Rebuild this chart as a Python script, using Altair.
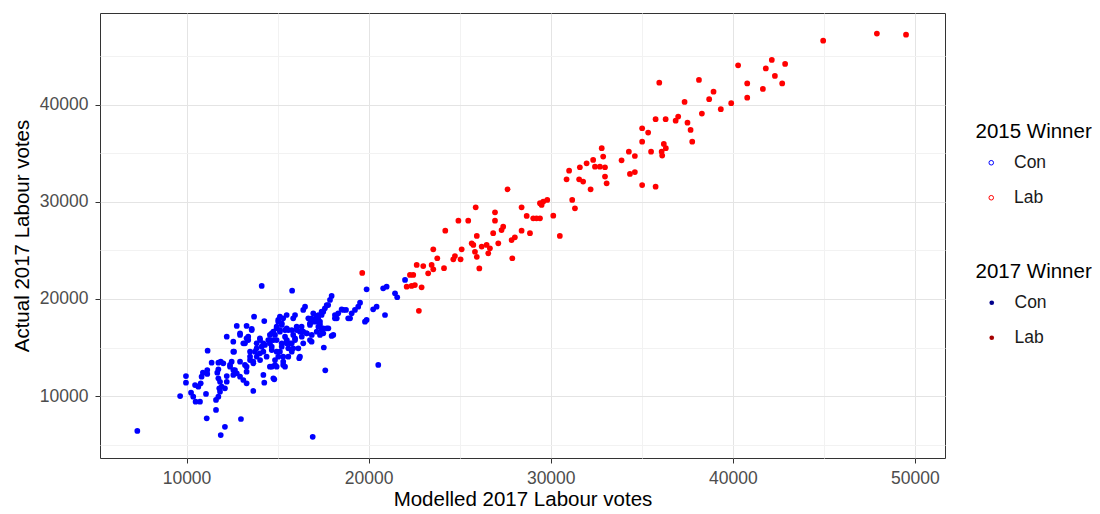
import altair as alt
import pandas as pd

FONT = "Liberation Sans"

# Seats won by the Conservatives in 2015: modelled vs actual 2017 Labour vote
con_modelled = [
    7300, 9650, 9970, 9970, 10250, 10370, 10500, 10740, 10470, 10650,
    10780, 10830, 10900, 11070, 11140, 11140, 11160, 11380, 11750, 11880,
    11110, 11620, 12110, 11880, 12990, 11620, 11750, 11840, 11800, 11930,
    11840, 11750, 11690, 11750, 12110, 12210, 12210, 12210, 12570, 12940,
    12760, 13390, 13210, 13580, 13300, 12610, 12480, 12390, 12570, 12760,
    12570, 12940, 13120, 13300, 13670, 14270, 14820, 13300, 13490, 13670,
    13850, 14030, 13760, 13490, 14130, 14310, 13850, 14490, 14030, 14680,
    14860, 15040, 15310, 15410, 15130, 15230, 15500, 14950, 14580, 14770,
    15410, 15590, 14950, 15230, 13710, 14270, 14130, 15800, 17620, 20530,
    17540, 16190, 16930, 19890, 20800, 20990, 21450, 21570, 22000, 17970,
    17880, 17780, 17600, 17510, 17420, 17230, 17140, 19530, 19430, 19250,
    19070, 18980, 18760, 18520, 18330, 18150, 20440, 20250, 20900, 19890,
    19800, 16510, 16410, 15960, 15860, 15500, 15310, 15040, 16960, 17150,
    17330, 17240, 17420, 17510, 17700, 17970, 16780, 16600, 16320, 16410,
    16050, 15860, 15960, 15680, 15500, 15410, 15130, 14860, 14770, 14580,
    15310, 14950, 14680, 15590, 15860, 16780, 16870, 15130, 13300,
    17700, 17420, 17240, 18610, 18880, 18250, 18150, 15040, 16690, 16960,
    16780, 17150, 17330, 12940, 13580, 13390, 13120, 12570, 14040, 14220,
    14580, 14680, 14950, 15230, 15130, 15500, 15780, 16050, 16230, 13850,
    14220, 14680, 14950, 15230, 15500, 15780, 15960, 16330, 16600, 16880,
    17150, 17330, 17510, 17790, 18060, 13490, 13670, 14040, 14400, 12940,
    13210, 12390, 12020, 12660, 13300, 14580, 14860, 15310, 15590, 15780,
    16230, 16140, 16410, 16870, 14770, 14220,
]
con_actual = [
    6400, 10000, 12060, 11370, 10340, 9930, 9410, 9410, 11130, 10960,
    11310, 11990, 12400, 10210, 12270, 12680, 14670, 13430, 13430, 13540,
    7700, 8560, 6830, 5980, 7630, 9590, 9930, 10440, 10790, 10960,
    11470, 11820, 12400, 12750, 10790, 11470, 12060, 16110, 15600, 16290,
    17220, 16110, 15430, 16800, 17220, 14570, 13540, 13020, 12680, 12340,
    12170, 11990, 11650, 11310, 10520, 11370, 11720, 13020, 13710, 13370,
    14050, 14400, 14570, 14570, 15080, 15260, 15430, 15770, 15950, 13020,
    13710, 14050, 13540, 13020, 14570, 15080, 15430, 15770, 16290, 16630,
    16110, 16800, 17140, 17490, 18180, 17730, 21340, 20860, 12650, 13200,
    15000, 13900, 5800, 21000, 21100, 21270, 20590, 20180, 21960, 20310,
    19900, 19380, 19040, 18690, 18350, 18010, 17660, 19620, 19210, 18870,
    18530, 18010, 18870, 18940, 18530, 18010, 19210, 18940, 18350, 17840,
    17660, 19210, 18870, 18350, 18010, 18350, 18010, 17660, 18530, 18180,
    17660, 17140, 16800, 16460, 16980, 16190, 15770, 16460, 17140, 16630,
    16800, 16290, 15770, 15430, 15770, 16800, 16630, 16290, 15770, 15430,
    14050, 13020, 14740, 14910, 14910, 17490, 18010, 18180, 15950,
    19380, 18690, 18350, 18870, 18010, 18010, 18350, 17840, 18010, 17660,
    17320, 18010, 17320, 16460, 16910, 15770, 15430, 14570, 15770, 15430,
    15770, 16460, 16980, 17320, 16800, 16980, 16800, 17140, 16630, 14910,
    14570, 15080, 14570, 15430, 15770, 15430, 15950, 16110, 16460, 16290,
    16630, 16290, 16980, 16980, 16290, 14050, 13540, 13710, 14050, 13540,
    13200, 13200, 13370, 12680, 12510, 13020, 13200, 13200, 14050, 14570,
    14050, 14910, 15430, 15600, 11820, 12170,
]

# Seats won by Labour in 2015
lab_modelled = [
    19650, 22270, 22450, 22640, 23000, 22090, 22360, 22540, 22910, 22760,
    23270, 23550, 23460, 23550, 23770, 24140, 24210, 24650, 24740, 25110,
    25050, 24930, 25470, 25880, 25750, 25940, 25660, 25840, 25940, 26080,
    26210, 26480, 26570, 26660, 26840, 26940, 26940, 27120, 27300, 27390,
    27630, 27850, 28030, 27890, 28400, 28400, 28680, 28860, 29040, 29220,
    29410, 29410, 29590, 29810, 29500, 30140, 30500, 30870, 31010, 31600,
    31970, 32330, 32430, 32700, 32980, 32880, 32980, 33070, 31560, 31780,
    32190, 31180, 31330, 32800, 33890, 34290, 34620, 34350, 34620, 35020,
    35350, 35020, 35020, 35760, 35510, 35760, 36310, 35960, 36090, 36210,
    36320, 36120, 36860, 37000, 37350, 37510, 37680, 37770, 38140, 38300,
    38700, 38940, 39340, 39910, 40290, 40790, 40790, 41650, 41810, 42140,
    42310, 42710, 42870, 44960, 47910, 49510,
]
lab_actual = [
    22680, 22480, 22480, 23510, 23400, 21270, 21340, 21440, 21210, 18780,
    22650, 25120, 23510, 23060, 24200, 23170, 27040, 24090, 24430, 25120,
    24090, 28070, 28070, 29450, 25570, 26500, 25740, 24870, 24350, 23150,
    25400, 25570, 24710, 25230, 26780, 28070, 28940, 25740, 27110, 27450,
    31310, 26080, 26360, 24200, 27040, 29450, 28560, 26780, 28320, 28320,
    28320, 29870, 30040, 30210, 29700, 28590, 26500, 32340, 33230, 33580,
    33990, 34330, 33640, 33640, 33580, 34680, 32620, 31930, 32340, 32100,
    31310, 30210, 29350, 35540, 34300, 35190, 34740, 32890, 33090, 37600,
    37150, 36220, 31750, 31580, 35190, 38530, 38530, 42300, 35190, 35980,
    35540, 34780, 38380, 38800, 40310, 38180, 37430, 36220, 42580, 39110,
    40590, 41370, 39560, 40180, 44090, 42220, 40750, 41650, 43760, 44640,
    42990, 42220, 44230, 46630, 47360, 47250,
]

parties = ["Con", "Lab"]
colours_2015 = ["#0000FF", "#FF0000"]
colours_2017 = ["#00008B", "#A50000"]

x_breaks = [10000, 20000, 30000, 40000, 50000]
x_minor = [15000, 25000, 35000, 45000]
y_breaks = [10000, 20000, 30000, 40000]
y_minor = [5000, 15000, 25000, 35000, 45000]

df = pd.DataFrame({
    "modelled": con_modelled + lab_modelled,
    "actual": con_actual + lab_actual,
    "winner_2015": ["Con"] * len(con_modelled) + ["Lab"] * len(lab_modelled),
})
df["winner_2017"] = df["winner_2015"]


def make_axis(title, breaks, minor, label_padding, title_padding):
    is_major = f"indexof({breaks}, datum.value) >= 0"
    return alt.Axis(
        title=title,
        values=sorted(breaks + minor),
        format="d",
        labelExpr=f"{is_major} ? datum.label : ''",
        labelOverlap=False,
        labelFlush=False,
        domain=False,
        gridColor={"condition": {"test": is_major, "value": "#E4E4E4"}, "value": "#F2F2F2"},
        gridWidth=1,
        tickColor={"condition": {"test": is_major, "value": "#333333"}, "value": "transparent"},
        tickSize=5,
        tickWidth=1,
        labelColor="#4D4D4D",
        labelFont=FONT,
        labelFontSize=17.5,
        labelPadding=label_padding,
        titleColor="#000000",
        titleFont=FONT,
        titleFontSize=20.5,
        titleFontWeight="normal",
        titlePadding=title_padding,
    )


base = alt.Chart(df).encode(
    x=alt.X("modelled:Q",
            scale=alt.Scale(domain=[5250, 51650], nice=False, zero=False),
            axis=make_axis("Modelled 2017 Labour votes", x_breaks, x_minor, 6, 3)),
    y=alt.Y("actual:Q",
            scale=alt.Scale(domain=[3610, 49480], nice=False, zero=False),
            axis=make_axis("Actual 2017 Labour votes", y_breaks, y_minor, 7, 7)),
)

legend_style = dict(
    orient="none",
    legendX=875.5,
    padding=0,
    titleFont=FONT,
    titleFontSize=20.5,
    titleFontWeight="normal",
    titleColor="#000000",
    titlePadding=12,
    labelFont=FONT,
    labelFontSize=17.5,
    labelColor="#1A1A1A",
    rowPadding=16,
    symbolType="circle",
    labelOffset=14,
)

# Hollow points coloured by the 2015 winner give the open-ring legend;
# they sit under the solid dots
rings = base.mark_point(filled=False, size=8, strokeWidth=1, opacity=1).encode(
    color=alt.Color(
        "winner_2015:N",
        scale=alt.Scale(domain=parties, range=colours_2015),
        legend=alt.Legend(title="2015 Winner", legendY=108.5, symbolSize=21,
                          symbolStrokeWidth=1, symbolOffset=7, **legend_style),
    )
)

# Small filled dots carry the 2017 legend (domain taken from the data so the
# two legends stay separate)
fills = base.mark_circle(size=8, opacity=1).encode(
    fill=alt.Fill(
        "winner_2017:N",
        scale=alt.Scale(range=colours_2017),
        legend=alt.Legend(title="2017 Winner", legendY=248.5, symbolSize=22,
                          symbolOffset=7.5, **legend_style),
    )
)

# Solid dots, one layer per 2015 winner
con_dots = base.transform_filter(alt.datum.winner_2015 == "Con").mark_circle(
    size=33, opacity=1, color=colours_2015[0])
lab_dots = base.transform_filter(alt.datum.winner_2015 == "Lab").mark_circle(
    size=33, opacity=1, color=colours_2015[1])

chart = (
    alt.layer(rings, fills, con_dots, lab_dots)
    .properties(
        width=845,
        height=445,
        autosize=alt.AutoSizeParams(type="none"),
        padding={"left": 100, "top": 13, "right": 155, "bottom": 56},
    )
    .configure(background="white")
    .configure_view(stroke="#333333", strokeWidth=1)
)

chart.save("out.html", embed_options={"renderer": "svg", "actions": False})
